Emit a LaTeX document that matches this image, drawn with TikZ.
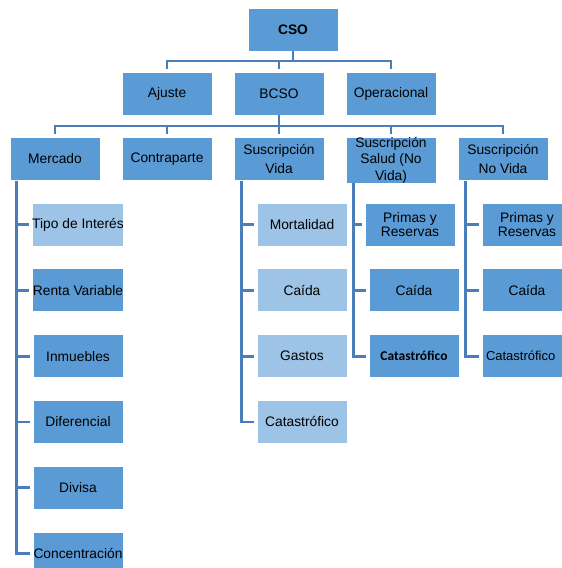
\documentclass[tikz,border=0pt]{standalone}
\usepackage{fontspec}
\setmainfont{Liberation Sans}
\newfontfamily\calib{Carlito}
\usepackage{tikz}
\usetikzlibrary{positioning}
\usetikzlibrary{calc}

\definecolor{boxdark}{RGB}{91,155,213}
\definecolor{boxlight}{RGB}{157,195,230}
\definecolor{connblue}{RGB}{74,126,187}

\tikzset{
  box/.style={rectangle, draw=white, line width=0.8pt, fill=boxdark,
    minimum width=90pt, minimum height=43pt, inner sep=0pt, align=center,
    font=\fontsize{13.8}{19.5}\selectfont},
  lbox/.style={box, fill=boxlight},
  conn/.style={draw=connblue, line width=2.8pt, shorten >=3pt}
}

\begin{document}
\begin{tikzpicture}[x=1pt,y=-1pt]
\useasboundingbox (0,0) rectangle (562,568);

% top levels
\node[box, font=\bfseries\fontsize{13.8}{19}\selectfont] (cso) at (293,29.5) {CSO};
\node[box] (ajuste) at (167,93.5) {Ajuste};
\node[box] (bcso) at (279,93.5) {BCSO};
\node[box] (oper) at (391,93.5) {Operacional};

\node[box] (mercado) at (55,159) {Mercado};
\node[box] (contra) at (167,159) {Contraparte};
\node[box] (vida) at (279,159) {Suscripción\\Vida};
\node[box, font=\fontsize{13.8}{16.5}\selectfont] (salud) at (391,160) {Suscripción\\Salud (No\\Vida)};
\node[box] (novida) at (503,159) {Suscripción\\No Vida};

\coordinate (bar1) at (293,61);
\coordinate (bar2) at (279,126);
\draw[conn] (cso.south) -- (bar1) -| (ajuste.north);
\draw[conn] (bar1) -| (bcso.north);
\draw[conn] (bar1) -| (oper.north);
\draw[conn] (bcso.south) -- (bar2) -| (mercado.north);
\draw[conn] (bar2) -| (contra.north);
\draw[conn] (bar2) -| (vida.north);
\draw[conn] (bar2) -| (salud.north);
\draw[conn] (bar2) -| (novida.north);

% Mercado
\node[lbox] (m1) at (78,224.5) {Tipo de Interés};
\foreach \n/\t [count=\i] in {m2/Renta Variable, m3/Inmuebles, m4/Diferencial, m5/Divisa, m6/Concentración}
  \node[box] (\n) at (78,224.5+65.8*\i) {\t};

% Suscripcion Vida
\foreach \n/\t [count=\i from 0] in {v1/Mortalidad, v2/Caída, v3/Gastos, v4/Catastrófico}
  \node[lbox] (\n) at (302,224.5+65.8*\i) {\t};

% Suscripcion Salud
\node[box, font=\fontsize{13.8}{14.8}\selectfont] (s1) at (410,224.5) {Primas y\\Reservas};
\node[box] (s2) at (414,290.3) {Caída};
\node[box, font=\calib\bfseries\fontsize{13.5}{15}\selectfont] (s3) at (414,356.1) {Catastrófico};

% Suscripcion No Vida
\node[box, font=\fontsize{13.8}{14.8}\selectfont] (n1) at (527,224.5) {Primas y\\Reservas};
\node[box] (n2) at (527,290.3) {Caída};
\node[box, text width=82pt, align=left, font=\fontsize{13}{15}\selectfont] (n3) at (527,356.1) {Catastrófico};

\foreach \n in {m1,m2,m3,m4,m5,m6}
  \draw[conn] ([xshift=7pt]mercado.south west) |- (\n.west);
\foreach \n in {v1,v2,v3,v4}
  \draw[conn] ([xshift=8pt]vida.south west) |- (\n.west);
\foreach \n in {s1,s2,s3}
  \draw[conn] ([xshift=8pt]salud.south west) |- (\n.west);
\foreach \n in {n1,n2,n3}
  \draw[conn] ([xshift=8pt]novida.south west) |- (\n.west);

\end{tikzpicture}
\end{document}
